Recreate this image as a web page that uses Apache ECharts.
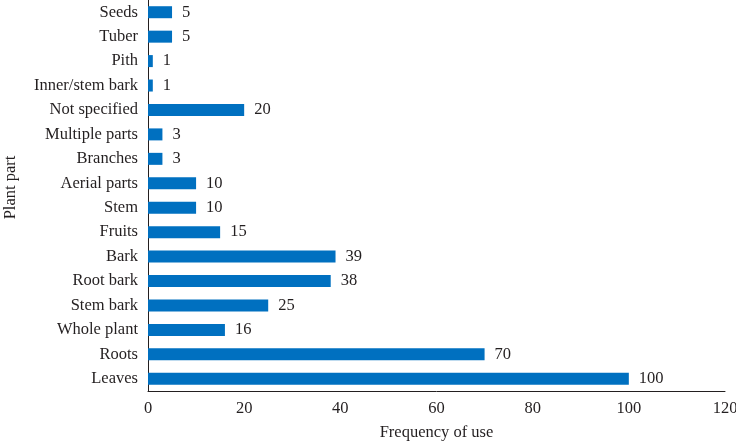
<!DOCTYPE html>
<html><head><meta charset="utf-8">
<script src="https://cdn.jsdelivr.net/npm/echarts@6/dist/echarts.min.js"></script>
<style>html,body{margin:0;padding:0;background:#fff}#c{width:736px;height:441px}</style>
</head><body><div id="c"></div>
<script>
const categories = ["Leaves","Roots","Whole plant","Stem bark","Root bark","Bark","Fruits","Stem","Aerial parts","Branches","Multiple parts","Not specified","Inner/stem bark","Pith","Tuber","Seeds"];
const values = [100,70,16,25,38,39,15,10,10,3,3,20,1,1,5,5];
const xTicks = [0,20,40,60,80,100,120];
const font = "'Liberation Serif', 'DejaVu Serif', serif";
const chart = echarts.init(document.getElementById('c'));
chart.setOption({
  animation:false,
  textStyle:{fontFamily:font},
  grid:{left:148,right:11,top:0,bottom:50,containLabel:false,outerBoundsMode:'none'},
  xAxis:{type:'value',min:xTicks[0],max:xTicks[xTicks.length-1],interval:20,
    name:'Frequency of use',nameLocation:'middle',nameGap:33,
    nameTextStyle:{fontFamily:font,fontSize:16.5,color:'#231f20'},
    axisLine:{show:true,lineStyle:{color:'#231f20',width:1}},
    axisTick:{show:false},splitLine:{show:false},
    axisLabel:{fontFamily:font,fontSize:16.5,color:'#231f20',margin:9}},
  yAxis:{type:'category',data:categories,
    name:'Plant part',nameLocation:'middle',nameGap:129,nameRotate:90,
    nameTextStyle:{fontFamily:font,fontSize:16.5,color:'#231f20',padding:[0,0,0,16]},
    axisLine:{show:true,lineStyle:{color:'#231f20',width:1}},
    axisTick:{show:false},
    axisLabel:{fontFamily:font,fontSize:16.5,color:'#231f20',margin:10}},
  series:[{type:'bar',data:values,barWidth:12,
    itemStyle:{color:'#0070c0'},
    label:{show:true,position:'right',distance:10,fontFamily:font,fontSize:16.5,color:'#231f20'}}]
});
</script></body></html>
